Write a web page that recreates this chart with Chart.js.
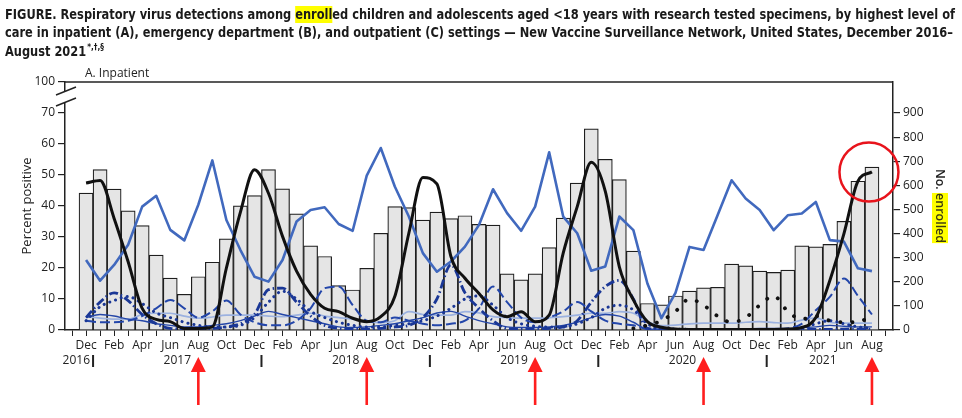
<!DOCTYPE html>
<html>
<head>
<meta charset="utf-8">
<title>Respiratory virus detections - Inpatient</title>
<script src="https://cdn.jsdelivr.net/npm/chart.js@4.4.1/dist/chart.umd.min.js"></script>
<style>
	html, body { margin: 0; padding: 0; background: #fff; }
	#wrapper-chart { width: 962px; height: 418px; }
</style>
</head>
<body>
<div id="wrapper-chart"><canvas id="chart-a" width="962" height="418"></canvas></div>
<script>
// months on the axis; Nov 2016 and Sep 2021 are empty padding slots
var categories = ['Nov 2016','Dec 2016',
	'Jan 2017','Feb 2017','Mar 2017','Apr 2017','May 2017','Jun 2017','Jul 2017','Aug 2017','Sep 2017','Oct 2017','Nov 2017','Dec 2017',
	'Jan 2018','Feb 2018','Mar 2018','Apr 2018','May 2018','Jun 2018','Jul 2018','Aug 2018','Sep 2018','Oct 2018','Nov 2018','Dec 2018',
	'Jan 2019','Feb 2019','Mar 2019','Apr 2019','May 2019','Jun 2019','Jul 2019','Aug 2019','Sep 2019','Oct 2019','Nov 2019','Dec 2019',
	'Jan 2020','Feb 2020','Mar 2020','Apr 2020','May 2020','Jun 2020','Jul 2020','Aug 2020','Sep 2020','Oct 2020','Nov 2020','Dec 2020',
	'Jan 2021','Feb 2021','Mar 2021','Apr 2021','May 2021','Jun 2021','Jul 2021','Aug 2021','Sep 2021'];

var years = ['2016', '2017', '2018', '2019', '2020', '2021'];
var arrowMonths = ['Aug 2017', 'Aug 2018', 'Aug 2019', 'Aug 2020', 'Aug 2021'];

// No. enrolled (bars, right axis)
var enrolled = [null, 568,
	665, 584, 494, 433, 311, 215, 148, 221, 281, 378, 515, 557,
	665, 585, 482, 349, 305, 184, 166, 256, 401, 512, 508, 456,
	489, 462, 474, 438, 435, 233, 208, 233, 342, 464, 609, 834,
	708, 624, 327, 110, 104, 141, 161, 175, 177, 273, 266, 244,
	239, 248, 349, 345, 355, 451, 617, 676, null];

// percent positive (lines, left axis)
var rsv = [null, 47.4,
	48.2, 36, 22, 7, 3.4, 2.7, 0.5, 0.5, 1, 20, 38, 51.7,
	44.1, 30.2, 19, 11.5, 7, 5.9, 3.8, 2.7, 4.3, 10.8, 31.2, 49.2,
	47.1, 23.7, 16.7, 11.8, 6.5, 4.3, 5.9, 2.7, 4.8, 24.8, 39.8, 54.1,
	44.7, 20.4, 9.7, 2.7, 0.9, 0.3, 0.2, 0.2, 0.2, 0.2, 0.2, 0.2,
	0.2, 0.3, 0.8, 4, 16, 31, 48, 51, null];

var rvev = [null, 22.6,
	15.9, 21, 27.5, 39.8, 43.3, 32.3, 28.9, 40.4, 54.7, 35.5, 25.8, 17.2,
	15.6, 22.6, 35, 38.7, 39.6, 34.2, 32, 49.8, 58.7, 46.3, 36.6, 24.8,
	18.8, 22.1, 26.9, 33.9, 45.4, 37.7, 32, 39.8, 57.3, 36.6, 31.2, 19.1,
	20.5, 36.6, 32.2, 15, 3.8, 12, 26.8, 25.8, 37, 48.3, 42.4, 38.7,
	32.2, 37, 37.6, 41.3, 29, 28.5, 19.9, 19, null];

var influenza = [null, 4,
	9, 12, 9.5, 5, 2, 0.5, 0.3, 0.3, 0.5, 1, 2, 5,
	13, 13.5, 9, 4.5, 1.5, 0.5, 0.3, 0.3, 0.5, 1, 1.5, 4,
	10, 21, 12, 7, 3, 0.5, 0.3, 0.3, 0.5, 1, 3, 9,
	14, 16, 10, 0.5, 0.2, 0.2, 0.2, 0.2, 0.2, 0.2, 0.2, 0.2,
	0.2, 0.2, 0.2, 0.2, 0.2, 0.3, 0.3, 0.3, null];

var hmpv = [null, 3,
	7.5, 9.5, 10.8, 8.5, 5.5, 4, 2.5, 1.5, 1, 1, 1.5, 4,
	9, 12.5, 10, 6, 4, 2.5, 1.5, 1, 1, 1.5, 2, 3,
	4.5, 7, 10, 11, 8, 4, 2, 1.2, 1, 1, 2, 4,
	7, 8, 6.5, 2, 0.5, 0.3, 0.2, 0.2, 0.2, 0.2, 0.2, 0.2,
	0.2, 0.2, 0.5, 2, 3, 2, 1, 0.5, null];

var parainfluenza = [null, 3,
	2.5, 2.5, 3, 4.5, 7, 9.7, 7, 4, 6, 9.5, 5, 2.5,
	1.5, 1.5, 3, 7, 13.5, 14, 8, 3, 2.5, 4, 3, 2,
	1.5, 2, 3, 7, 14, 9, 4, 2.5, 4, 6, 9, 6,
	3, 2, 1.5, 0.3, 0.2, 0.2, 0.2, 0.2, 0.2, 0.2, 0.2, 0.2,
	0.2, 0.5, 2, 6.4, 10.7, 16.6, 11, 5, null];

var coronavirus = [null, 4,
	5, 4.5, 3.5, 3, 2, 1.5, 1, 1, 1.5, 2, 3, 4.5,
	6, 5, 4, 3, 2, 1, 0.8, 1, 1.5, 2, 3, 4,
	5.5, 6, 4.5, 3, 2, 1, 0.8, 0.8, 1, 1.5, 2.5, 4,
	5, 4.5, 2.5, 0.3, 0.2, 0.2, 0.2, 0.2, 0.2, 0.3, 0.3, 0.5,
	0.5, 0.5, 0.8, 1, 1.5, 1.2, 1, 1, null];

var adenovirus = [null, 4.3,
	3.8, 3.5, 3.5, 5, 5.4, 5.4, 4.5, 3.8, 4.2, 4.8, 4.8, 4.8,
	4.5, 4.3, 4.8, 5.4, 4.5, 4, 3.5, 2.7, 2.4, 3, 5.9, 5,
	4.8, 4.8, 5.9, 5.5, 4.3, 4, 3.8, 3.8, 4, 4.3, 4.8, 5.4,
	5.4, 5.9, 5.4, 2.7, 1.4, 1.6, 2, 2.2, 2.2, 2.2, 2.5, 2.7,
	2.4, 2.2, 3.2, 3.8, 2.5, 2.2, 2.2, 2.2, null];

var sarsCov2 = [null, null,
	null, null, null, null, null, null, null, null, null, null, null, null,
	null, null, null, null, null, null, null, null, null, null, null, null,
	null, null, null, null, null, null, null, null, null, null, null, null,
	null, null, 0.5, 1.5, 3, 6, 10, 8, 4.5, 2.5, 4, 8,
	11, 6, 3.5, 4.5, 3, 2.5, 2.5, 5, null];

var percentTicks = [0, 10, 20, 30, 40, 50, 60, 70, 80];
var enrolledTicks = [0, 100, 200, 300, 400, 500, 600, 700, 800, 900];

var titleLines = [
	'FIGURE. Respiratory virus detections among enrolled children and adolescents aged <18 years with research tested specimens, by highest level of',
	'care in inpatient (A), emergency department (B), and outpatient (C) settings \u2014 New Vaccine Surveillance Network, United States, December 2016\u2013',
	'August 2021'
];
var titleNote = '*,\u2020,\u00a7';
var highlightWord = 'enroll';
var panelLabel = 'A. Inpatient';

var FONT = "'Open Sans', 'Noto Sans', sans-serif";
var TITLE_FONT = "'Liberation Sans Narrow', 'DejaVu Sans Condensed', 'Open Sans', sans-serif";
var INK = '#222';
var NAVY = '#1a3796';

function squeeze(ctx, txt, x, y, s){
	ctx.save();
	ctx.translate(x, y);
	ctx.scale(s, 1);
	ctx.fillText(txt, 0, 0);
	ctx.restore();
}

function _drawTitle(ctx){
	ctx.font = 'bold 14px ' + TITLE_FONT;
	ctx.textAlign = 'left';
	ctx.textBaseline = 'alphabetic';
	var l1 = titleLines[0];
	var s1 = 950 / ctx.measureText(l1).width;
	var idx = l1.indexOf(highlightWord);
	var hx = 5 + ctx.measureText(l1.slice(0, idx)).width * s1;
	var hw = ctx.measureText(highlightWord).width * s1;
	ctx.fillStyle = '#ffff00';
	ctx.fillRect(hx, 6, hw, 17);
	ctx.fillStyle = '#1a1a1a';
	squeeze(ctx, l1, 5, 19, s1);
	var s2 = 948 / ctx.measureText(titleLines[1]).width;
	squeeze(ctx, titleLines[1], 5, 37, s2);
	squeeze(ctx, titleLines[2], 5, 56, s2);
	var w3 = ctx.measureText(titleLines[2]).width * s2;
	ctx.font = 'bold 9px ' + TITLE_FONT;
	squeeze(ctx, titleNote, 6 + w3, 50, s2);
}

var decor = {
	id: 'decor',
	afterDraw: function(chart){
		var ctx = chart.ctx, a = chart.chartArea, x = chart.scales.x, y = chart.scales.y;
		ctx.save();

		// top frame
		ctx.strokeStyle = INK;
		ctx.lineWidth = 1.5;
		ctx.beginPath(); ctx.moveTo(a.left, a.top); ctx.lineTo(a.right, a.top); ctx.stroke();

		// axis break between 70 and 100
		ctx.fillStyle = '#fff';
		ctx.beginPath();
		ctx.moveTo(a.left - 9, a.top + 13); ctx.lineTo(a.left + 11, a.top + 5);
		ctx.lineTo(a.left + 11, a.top + 16); ctx.lineTo(a.left - 9, a.top + 24);
		ctx.closePath(); ctx.fill();
		ctx.beginPath();
		ctx.moveTo(a.left - 9, a.top + 13); ctx.lineTo(a.left + 11, a.top + 5);
		ctx.moveTo(a.left - 9, a.top + 24); ctx.lineTo(a.left + 11, a.top + 16);
		ctx.stroke();

		_drawTitle(ctx);

		ctx.font = '12px ' + FONT;
		ctx.fillStyle = INK;
		ctx.textAlign = 'left';
		ctx.textBaseline = 'alphabetic';
		ctx.fillText(panelLabel, 85, 77);

		// axis titles
		var midY = (a.top + a.bottom) / 2;
		ctx.save();
		ctx.translate(27, midY);
		ctx.rotate(-Math.PI / 2);
		ctx.font = '13px ' + FONT;
		ctx.textAlign = 'center';
		ctx.textBaseline = 'middle';
		ctx.fillText('Percent positive', 0, 0);
		ctx.restore();

		ctx.save();
		ctx.translate(940, midY);
		ctx.rotate(Math.PI / 2);
		ctx.font = '600 12.5px ' + FONT;
		ctx.textBaseline = 'middle';
		ctx.textAlign = 'left';
		var wNo = ctx.measureText('No. ').width, wEn = ctx.measureText('enrolled').width;
		var sx = -(wNo + wEn) / 2;
		ctx.fillStyle = '#ffff00';
		ctx.fillRect(sx + wNo, -8, wEn, 16);
		ctx.fillStyle = INK;
		ctx.fillText('No. ', sx, 0);
		ctx.fillStyle = '#3a3a10';
		ctx.fillText('enrolled', sx + wNo, 0);
		ctx.restore();

		// year dividers and labels
		ctx.font = '12px ' + FONT;
		ctx.fillStyle = INK;
		ctx.textBaseline = 'middle';
		var divs = [];
		for (var k = 0; k < years.length - 1; k++){
			var dec = categories.indexOf('Dec ' + years[k]);
			var dx = (x.getPixelForValue(dec) + x.getPixelForValue(dec + 1)) / 2;
			divs.push(dx);
			ctx.fillRect(dx - 1, 355, 2, 12);
		}
		ctx.textAlign = 'right';
		ctx.fillText(years[0], divs[0] - 3, 361);
		ctx.textAlign = 'center';
		for (k = 1; k < years.length - 1; k++){
			ctx.fillText(years[k], (divs[k - 1] + divs[k]) / 2, 361);
		}
		var lastX = x.getPixelForValue(categories.length - 2) + 7;
		ctx.fillText(years[years.length - 1], (divs[divs.length - 1] + lastX) / 2, 361);

		// red arrows
		ctx.fillStyle = '#ff1e1e';
		arrowMonths.forEach(function(m){
			var ax = x.getPixelForValue(categories.indexOf(m));
			ctx.beginPath();
			ctx.moveTo(ax, 357); ctx.lineTo(ax + 7.5, 372); ctx.lineTo(ax - 7.5, 372);
			ctx.closePath(); ctx.fill();
			ctx.fillRect(ax - 1.3, 370, 2.6, 35);
		});

		// red circle round the last months
		var last = categories.length - 2;
		ctx.strokeStyle = '#e8141c';
		ctx.lineWidth = 2.5;
		ctx.beginPath();
		ctx.arc(x.getPixelForValue(last) - 3, y.getPixelForValue(rsv[last]), 29.5, 0, Math.PI * 2);
		ctx.stroke();

		ctx.restore();
	}
};

function line(label, data, color, width, dash, order, smooth, cap){
	return {
		type: 'line', label: label, data: data, yAxisID: 'y',
		borderColor: color, borderWidth: width, borderDash: dash || [],
		borderCapStyle: cap || 'butt', borderJoinStyle: 'round',
		cubicInterpolationMode: smooth ? 'monotone' : 'default', tension: 0,
		pointRadius: 0, fill: false, order: order, spanGaps: false
	};
}

var ctx = document.getElementById('chart-a');
var chart = new Chart(ctx, {
	data: {
		labels: categories,
		datasets: [
			line('RSV', rsv, '#111', 3, null, 0, true),
			line('RV/EV', rvev, '#4169be', 2.6, null, 1, false),
			line('SARS-CoV-2', sarsCov2, '#111', 3.8, [0.1, 12], 2, true, 'round'),
			line('Influenza', influenza, NAVY, 2.8, [9, 3, 1.5, 3], 3, true),
			line('HMPV', hmpv, NAVY, 3, [0.1, 6], 4, true, 'round'),
			line('Parainfluenza', parainfluenza, '#2346aa', 2, [10, 4], 5, true),
			line('Seasonal CoV', coronavirus, '#2446a8', 1.4, null, 6, true),
			line('Adenovirus', adenovirus, '#9cb2e0', 1.7, null, 7, true),
			{
				type: 'bar', label: 'No. enrolled', data: enrolled, yAxisID: 'y2',
				backgroundColor: '#e5e5e5', borderColor: '#1e1e1e', borderWidth: 1.2,
				barPercentage: 1, categoryPercentage: 1, order: 20
			}
		]
	},
	options: {
		responsive: false,
		animation: false,
		devicePixelRatio: 1,
		layout: { padding: { top: 82, left: 0, right: 0, bottom: 0 } },
		plugins: { legend: { display: false }, tooltip: { enabled: false } },
		scales: {
			x: {
				type: 'category',
				offset: true,
				grid: { display: true, drawOnChartArea: false, offset: false, tickLength: 6, color: INK, lineWidth: 1 },
				border: { display: true, color: INK, width: 1.5 },
				ticks: {
					autoSkip: false, maxRotation: 0, minRotation: 0, padding: 2, color: INK,
					font: { family: FONT, size: 12 },
					callback: function(v, i){
						return i % 2 === 1 ? this.getLabelForValue(v).slice(0, 3) : '';
					}
				},
				afterFit: function(s){ s.height = 88; }
			},
			y: {
				position: 'left', min: 0, max: 80,
				afterBuildTicks: function(s){ s.ticks = percentTicks.map(function(v){ return { value: v }; }); },
				ticks: {
					color: INK, padding: 3, font: { family: FONT, size: 12 },
					callback: function(v){ return v === 80 ? '100' : v; }
				},
				grid: { drawOnChartArea: false, tickLength: 7, color: INK, lineWidth: 1.2 },
				border: { display: true, color: INK, width: 1.5 },
				afterFit: function(s){ s.width = 65; }
			},
			y2: {
				position: 'right', min: 0, max: 900 * 80 / 70,
				afterBuildTicks: function(s){ s.ticks = enrolledTicks.map(function(v){ return { value: v }; }); },
				ticks: { color: INK, padding: 3, font: { family: FONT, size: 12 } },
				grid: { drawOnChartArea: false, tickLength: 7, color: INK, lineWidth: 1.2 },
				border: { display: true, color: INK, width: 1.5 },
				afterFit: function(s){ s.width = 69; }
			}
		}
	},
	plugins: [decor]
});
</script>
</body>
</html>
